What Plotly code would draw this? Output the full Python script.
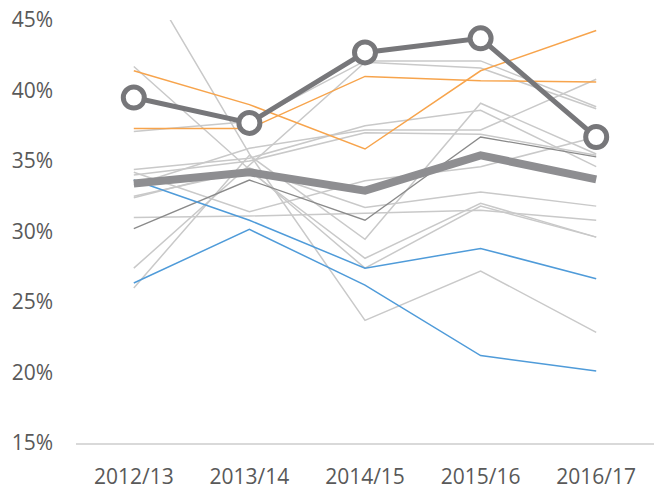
import plotly.graph_objects as go

years = ["2012/13", "2013/14", "2014/15", "2015/16", "2016/17"]

# light grey comparison series (values in %)
grey_series = [
    [49.4, 35.5, 23.7, 27.2, 22.85],
    [41.7, 34.4, 27.4, 31.8, 29.6],
    [37.1, 37.8, 42.1, 42.1, 38.85],
    [27.4, 34.7, 42.0, 41.6, 38.7],
    [34.4, 35.2, 37.5, 38.6, 34.6],
    [33.3, 35.9, 37.2, 37.2, 40.8],
    [34.2, 31.4, 33.6, 34.6, 36.7],
    [31.0, 31.1, 31.3, 31.5, 30.8],
    [26.0, 35.4, 29.45, 39.1, 35.5],
    [32.5, 34.3, 28.1, 32.0, 29.6],
    [32.4, 34.5, 31.7, 32.8, 31.8],
    [34.0, 35.0, 37.0, 36.9, 35.4],
]
dark_series = [30.2, 33.65, 30.8, 36.7, 35.3]
blue_series = [
    [33.65, 30.8, 27.4, 28.8, 26.65],
    [26.35, 30.15, 26.2, 21.2, 20.1],
]
orange_series = [
    [41.4, 39.0, 35.85, 41.4, 44.25],
    [37.3, 37.3, 41.0, 40.7, 40.6],
]
average = [33.4, 34.2, 32.9, 35.4, 33.7]
highlight = [39.5, 37.7, 42.7, 43.7, 36.7]

y_ticks = [15, 20, 25, 30, 35, 40, 45]
y_tick_labels = [f"{v}%" for v in y_ticks]

fig = go.Figure()

for s in grey_series:
    fig.add_trace(go.Scatter(x=years, y=s, mode="lines",
                             line=dict(color="#c9c9c9", width=1.5),
                             showlegend=False, hoverinfo="skip"))

fig.add_trace(go.Scatter(x=years, y=dark_series, mode="lines",
                         line=dict(color="#8a8a8a", width=1.3),
                         showlegend=False, hoverinfo="skip"))

for s in blue_series:
    fig.add_trace(go.Scatter(x=years, y=s, mode="lines",
                             line=dict(color="#4f9bd9", width=1.5),
                             showlegend=False, hoverinfo="skip"))

for s in orange_series:
    fig.add_trace(go.Scatter(x=years, y=s, mode="lines",
                             line=dict(color="#f7a44c", width=1.5),
                             showlegend=False, hoverinfo="skip"))

fig.add_trace(go.Scatter(x=years, y=average, mode="lines",
                         line=dict(color="#8e8e91", width=8),
                         showlegend=False, hoverinfo="skip"))

fig.add_trace(go.Scatter(x=years, y=highlight, mode="lines+markers",
                         line=dict(color="#77777a", width=5),
                         marker=dict(size=21, color="white",
                                     line=dict(color="#77777a", width=5)),
                         showlegend=False, hoverinfo="skip"))

fig.update_layout(
    width=654, height=491,
    margin=dict(l=76, r=0, t=20, b=48),
    paper_bgcolor="white", plot_bgcolor="white",
    font=dict(family="Open Sans", size=21, color="#595959"),
    xaxis=dict(type="category", range=[-0.5, 4.5], showgrid=False,
               zeroline=False, showline=True, linecolor="#d9d9d9",
               linewidth=2, ticks="", ticklabelstandoff=14,
               tickfont=dict(size=21, color="#595959")),
    yaxis=dict(range=[15, 45], tickvals=y_ticks, ticktext=y_tick_labels,
               showgrid=False, zeroline=False, showline=False, ticks="",
               ticklabelstandoff=22,
               tickfont=dict(size=21, color="#595959")),
)

fig.write_html(
    "out.html",
    config={"displayModeBar": False, "staticPlot": True},
    post_script="document.body.style.margin='0';document.body.style.overflow='hidden';",
)
